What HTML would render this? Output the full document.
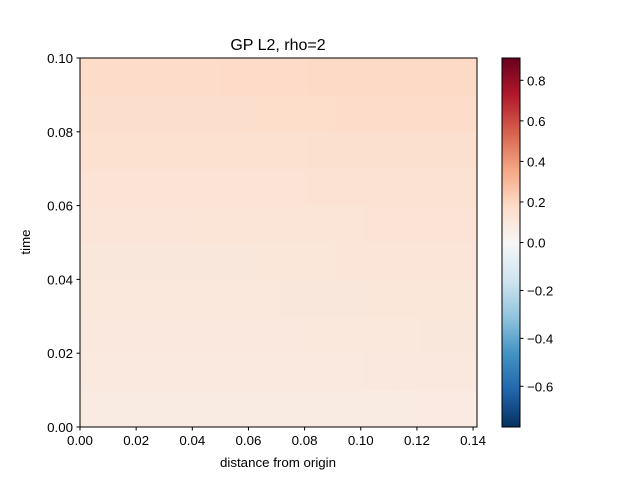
<!DOCTYPE html>
<html><head><meta charset="utf-8"><style>
body{margin:0;background:#fff;font-family:"Liberation Sans",sans-serif}
</style></head><body>
<svg id="chart" width="640" height="480" xmlns="http://www.w3.org/2000/svg" font-family="Liberation Sans, sans-serif" font-size="13.3">
<rect width="640" height="480" fill="#fff"/>
<text x="278" y="50" text-anchor="middle" font-size="16">GP L2, rho=2</text>
<g id="heat"></g>
<g id="axes"></g>
<g id="cbar"></g>
<text x="278" y="467" text-anchor="middle">distance from origin</text>
<text x="30" y="242" text-anchor="middle" transform="rotate(-90 30 242)">time</text>
</svg>
<script>
// data: rows bottom->top (time 0..0.1, step 0.01), columns distance 0..0.1414 (step 0.0101)
const timeEdges=[0,0.01,0.02,0.03,0.04,0.05,0.06,0.07,0.08,0.09,0.1];
const distEdges=[0,0.0101,0.0202,0.0303,0.0404,0.0505,0.0606,0.0707,0.0808,0.0909,0.101,0.1111,0.1212,0.1313,0.1414];
const values=[
[0.08,0.08,0.08,0.08,0.08,0.08,0.08,0.08,0.08,0.08,0.08,0.08,0.085,0.085],
[0.09,0.09,0.09,0.09,0.09,0.09,0.09,0.09,0.09,0.09,0.095,0.095,0.095,0.095],
[0.095,0.095,0.095,0.095,0.095,0.095,0.095,0.095,0.1,0.1,0.1,0.1,0.105,0.105],
[0.1,0.1,0.1,0.1,0.1,0.1,0.1,0.105,0.105,0.105,0.11,0.11,0.11,0.11],
[0.105,0.105,0.105,0.105,0.105,0.105,0.11,0.11,0.11,0.115,0.115,0.115,0.115,0.115],
[0.115,0.115,0.115,0.115,0.12,0.12,0.12,0.12,0.12,0.12,0.125,0.125,0.125,0.125],
[0.13,0.13,0.13,0.13,0.13,0.13,0.13,0.13,0.135,0.135,0.135,0.135,0.135,0.135],
[0.145,0.145,0.145,0.145,0.145,0.145,0.145,0.145,0.15,0.15,0.15,0.15,0.15,0.15],
[0.16,0.16,0.16,0.16,0.16,0.16,0.165,0.165,0.165,0.17,0.17,0.17,0.17,0.17],
[0.175,0.175,0.175,0.175,0.175,0.18,0.18,0.18,0.185,0.185,0.185,0.185,0.185,0.185]];
const xTicks=[0,0.02,0.04,0.06,0.08,0.1,0.12,0.14];
const yTicks=[0,0.02,0.04,0.06,0.08,0.1];
const cbTicks=[-0.6,-0.4,-0.2,0,0.2,0.4,0.6,0.8];
const vmin=-0.77, vmax=0.91;

const NS="http://www.w3.org/2000/svg";
const L=80,R=477,T=58,B=427, CL=502,CR=520;
const xS=v=>L+(v-0)/(0.1414)*(R-L);
const yS=v=>B-(v-0)/(0.1)*(B-T);
const cbS=v=>v>=0? 242.5-(v/vmax)*(242.5-T) : 242.5+(v/vmin)*(B-242.5);
const stops=["#053061","#2166ac","#4393c3","#92c5de","#d1e5f0","#f7f7f7","#fddbc7","#f4a582","#d6604d","#b2182b","#67001f"];
function hex(c){return [1,3,5].map(i=>parseInt(c.substr(i,2),16));}
function cmap(t){t=Math.max(0,Math.min(1,t));const p=t*10,i=Math.min(9,Math.floor(p)),f=p-i;const a=hex(stops[i]),b=hex(stops[i+1]);return "rgb("+a.map((v,k)=>Math.round(v+(b[k]-v)*f)).join(",")+")";}
const norm=v=>v>=0?0.5+0.5*v/vmax:0.5-0.5*v/vmin;
function el(tag,attrs,parent){const e=document.createElementNS(NS,tag);for(const k in attrs)e.setAttribute(k,attrs[k]);parent.appendChild(e);return e;}
const heat=document.getElementById('heat'),axes=document.getElementById('axes'),cbar=document.getElementById('cbar');
values.forEach((row,r)=>row.forEach((v,c)=>{
  const x0=xS(distEdges[c]),x1=xS(distEdges[c+1]),y0=yS(timeEdges[r+1]),y1=yS(timeEdges[r]);
  const e=el('rect',{x:x0,y:y0,width:x1-x0+0.5,height:y1-y0+0.5,fill:cmap(norm(v))},heat);
  
  
}));
const fr=el('rect',{x:L,y:T,width:R-L,height:B-T,fill:'none',stroke:'#000','stroke-width':1},axes);


xTicks.forEach(t=>{const x=xS(t);
  el('line',{x1:x,x2:x,y1:B,y2:B+3.5,stroke:'#000'},axes);
  const tx=el('text',{x:x,y:B+18,'text-anchor':'middle'},axes);tx.textContent=t.toFixed(2);
  
  
});
yTicks.forEach(t=>{const y=yS(t);
  el('line',{x1:L-3.5,x2:L,y1:y,y2:y,stroke:'#000'},axes);
  const tx=el('text',{x:L-7,y:y+5,'text-anchor':'end'},axes);tx.textContent=t.toFixed(2);
  
  
});
for(let py=T;py<B;py+=1){
  const v=py<=242.5? vmax*(242.5-py-0.5)/(242.5-T) : vmin*(py+0.5-242.5)/(B-242.5);
  el('rect',{x:CL,y:py,width:CR-CL,height:1.2,fill:cmap(norm(v))},cbar);
}
const cf=el('rect',{x:CL,y:T,width:CR-CL,height:B-T,fill:'none',stroke:'#000'},cbar);


cbTicks.forEach(t=>{const y=cbS(t);
  el('line',{x1:CR,x2:CR+3.5,y1:y,y2:y,stroke:'#000'},cbar);
  const tx=el('text',{x:CR+7,y:y+5},cbar);tx.textContent=(t<0?'\u2212':'')+Math.abs(t).toFixed(1);
  
  
});
</script>
</body></html>
